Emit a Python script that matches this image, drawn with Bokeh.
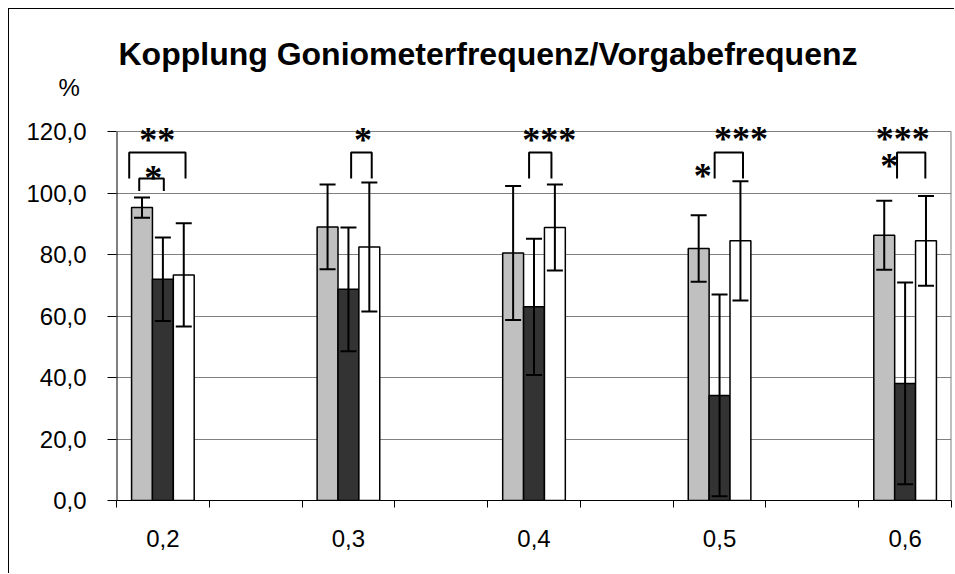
from bokeh.plotting import figure
from bokeh.models import (ColumnDataSource, Whisker, TeeHead, FixedTicker, LabelSet,
                          Range1d)
from bokeh.embed import file_html
from bokeh.resources import INLINE

# ---------------- data ----------------
categories = ["0,2", "0,3", "0,4", "0,5", "0,6"]
gray_mean = [95.3, 89.0, 80.5, 82.0, 86.3]
gray_err = [3.3, 13.8, 21.8, 10.8, 11.2]
dark_mean = [72.0, 68.7, 63.0, 34.2, 38.1]
dark_err = [13.6, 20.1, 22.2, 32.8, 32.8]
white_mean = [73.4, 82.5, 88.8, 84.5, 84.5]
white_err = [16.8, 21.0, 14.0, 19.4, 14.6]
y_ticks = [0, 20, 40, 60, 80, 100, 120]
y_tick_labels = ["0,0", "20,0", "40,0", "60,0", "80,0", "100,0", "120,0"]
y_max = 120
unit_label = "%"
unit_label_level = 134.3   # height (in axis units) at which the "%" unit sits

# significance brackets: (category index, x from, x to (offset in slot), top, leg bottom)
brackets = [
    (0, -0.363, 0.244, 113.2, 104.8),
    (0, -0.255, 0.010, 104.8, 100.7),
    (1, 0.029, 0.251, 113.2, 104.8),
    (2, -0.053, 0.188, 113.2, 104.8),
    (3, -0.053, 0.253, 113.2, 104.8),
    (4, -0.087, 0.218, 113.2, 104.8),
]
# significance stars: (category index, x offset, y centre, text)
stars = [
    (0, -0.06, 118.6, "**"),
    (0, -0.105, 106.3, "*"),
    (1, 0.158, 118.5, "*"),
    (2, 0.164, 118.6, "***"),
    (3, -0.182, 107.0, "*"),
    (3, 0.232, 118.8, "***"),
    (4, -0.172, 110.0, "*"),
    (4, -0.025, 118.8, "***"),
]

FONT = "Liberation Sans"
n_slots = 2 * len(categories) - 1
centers = [2 * i + 0.5 for i in range(len(categories))]
bar_w = 0.225
series = [
    (gray_mean, gray_err, "#C0C0C0", -bar_w),
    (dark_mean, dark_err, "#333333", 0.0),
    (white_mean, white_err, "#FFFFFF", bar_w),
]

# the frame reaches above 120 so the unit label and the stars are not cut off
p = figure(width=946, height=565, output_backend="svg", toolbar_location=None,
           x_range=Range1d(0, n_slots), y_range=Range1d(0, 136),
           title="Kopplung Goniometerfrequenz/Vorgabefrequenz",
           min_border_left=107, min_border_right=4, min_border_top=73,
           min_border_bottom=74)
p.styles = {"margin-left": "8px", "margin-top": "8px",
            "border-left": "1px solid black", "border-top": "1px solid black"}

p.title.align = "left"
p.title.offset = 2
p.title.standoff = 22
p.title.text_font = FONT
p.title.text_font_size = "32px"
p.title.text_font_style = "bold"
p.title.text_color = "black"

p.outline_line_color = None
p.background_fill_color = "white"
p.border_fill_color = "white"

# x axis: ticks at slot boundaries, labels in the middle of every second slot
p.xaxis.ticker = FixedTicker(ticks=centers, minor_ticks=list(range(n_slots + 1)))
p.xaxis.major_label_overrides = {c: lab for c, lab in zip(centers, categories)}
p.xaxis.major_tick_out = 0
p.xaxis.major_tick_in = 0
p.xaxis.minor_tick_out = 7
p.xaxis.minor_tick_in = 0
p.xaxis.minor_tick_line_color = "black"
p.xaxis.minor_tick_line_width = 1
p.xaxis.major_label_standoff = 22
p.xaxis.axis_line_color = "black"

# y axis: tick marks only at the value ticks; unit label drawn as an extra label
p.yaxis.ticker = FixedTicker(ticks=y_ticks + [unit_label_level], minor_ticks=y_ticks)
overrides = {t: lab for t, lab in zip(y_ticks, y_tick_labels)}
overrides[unit_label_level] = unit_label + "\u00a0"
p.yaxis.major_label_overrides = overrides
p.yaxis.major_tick_out = 0
p.yaxis.major_tick_in = 0
p.yaxis.minor_tick_out = 9
p.yaxis.minor_tick_in = 0
p.yaxis.minor_tick_line_color = "black"
p.yaxis.minor_tick_line_width = 1
p.yaxis.major_label_standoff = 21
p.yaxis.axis_line_color = None

for ax in (p.xaxis, p.yaxis):
    ax.major_label_text_font = FONT
    ax.major_label_text_font_size = "24px"
    ax.major_label_text_color = "black"

p.xgrid.grid_line_color = None
p.ygrid.ticker = FixedTicker(ticks=y_ticks)
p.ygrid.grid_line_color = "#808080"
p.ygrid.grid_line_width = 1

# y axis line (0..120) and right border of the plot area
p.segment(x0=0, y0=0, x1=0, y1=y_max, line_color="black", line_width=2)
p.segment(x0=n_slots, y0=0, x1=n_slots, y1=y_max, line_color="#808080", line_width=2)

# bars and error bars
for means, errs, color, off in series:
    xs = [c + off for c in centers]
    src = ColumnDataSource(dict(
        x=xs, top=means,
        upper=[m + e for m, e in zip(means, errs)],
        lower=[m - e for m, e in zip(means, errs)],
    ))
    p.vbar(x="x", top="top", bottom=0, width=bar_w, source=src,
           fill_color=color, line_color="black", line_width=1.5)
    wh = Whisker(base="x", upper="upper", lower="lower", source=src,
                 dimension="height", line_color="black", line_width=2, level="overlay",
                 upper_head=TeeHead(size=16, line_color="black", line_width=2),
                 lower_head=TeeHead(size=16, line_color="black", line_width=2))
    p.add_layout(wh)

# significance brackets
bx, by = [], []
for ci, x0, x1, top, bot in brackets:
    c = centers[ci]
    bx.append([c + x0, c + x0, c + x1, c + x1])
    by.append([bot, top, top, bot])
p.multi_line(xs=bx, ys=by, line_color="black", line_width=2)

star_src = ColumnDataSource(dict(
    x=[centers[ci] + xo for ci, xo, yc, t in stars],
    y=[yc for ci, xo, yc, t in stars],
    text=[t for ci, xo, yc, t in stars],
))
p.add_layout(LabelSet(x="x", y="y", text="text", source=star_src,
                      text_font=FONT, text_font_size="36px", text_font_style="bold",
                      text_align="center", text_baseline="alphabetic",
                      y_offset=-16, text_color="black", level="overlay"))

open("out.html", "w").write(file_html(p, INLINE))
